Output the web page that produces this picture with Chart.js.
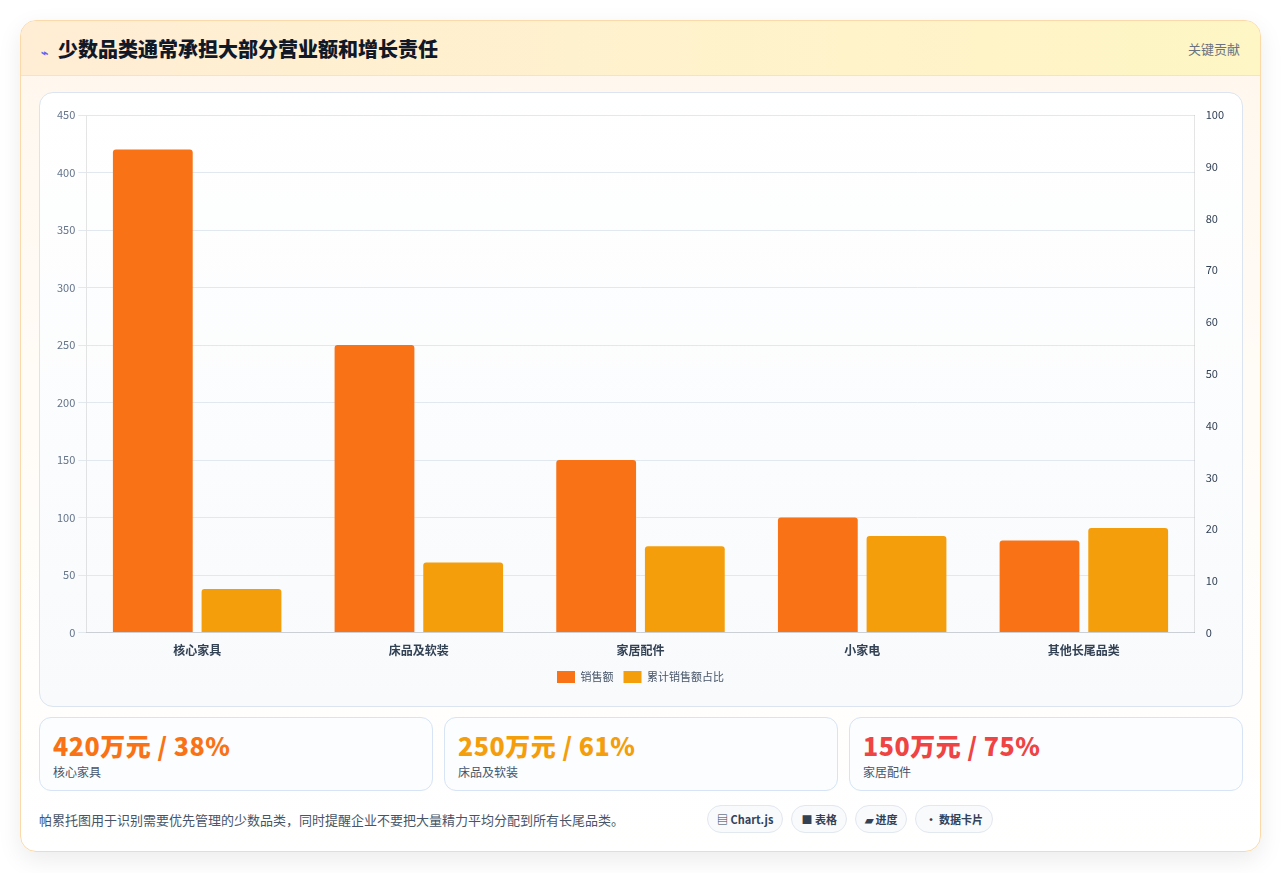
<!DOCTYPE html>
<html>
<head>
<meta charset="utf-8">
<script src="https://cdn.jsdelivr.net/npm/chart.js"></script>
<style>
  * { box-sizing: border-box; }
  body { margin: 0; background: #fff; font-family: "Noto Sans CJK SC", "Noto Sans", sans-serif; }
  .card { position: absolute; left: 20px; top: 20px; width: 1241px; height: 832px; border: 1px solid #fcd9a8; border-radius: 16px; background: linear-gradient(180deg, #fff7ed 0%, #fffdfa 60%, #ffffff 100%); box-shadow: 0 8px 24px rgba(0,0,0,0.08); overflow: hidden; }
  .head { height: 55px; background: linear-gradient(90deg, #ffedd5, #fef6c4); border-bottom: 1px solid #f3e3c8; display: flex; align-items: center; padding: 0 20px; }
  .head h1 { margin: 0; font-size: 20px; font-weight: 800; color: #111827; flex: 1; }
  .head h1 span { font-size: 12px; color: #6366f1; margin-right: 10px; }
  .head .tag { font-size: 13px; color: #6b7280; }
  .panel { position: absolute; left: 18px; top: 71px; width: 1204px; height: 615px; border: 1px solid #dbe4f0; border-radius: 14px; background: linear-gradient(180deg, #ffffff, #f8fafc); }
  .cards { position: absolute; left: 18px; top: 696px; width: 1204px; display: flex; gap: 11px; }
  .kpi { flex: 1; height: 74px; border: 1px solid #d6e4f5; border-radius: 12px; background: #fbfdff; padding: 9px 13px; }
  .kpi .v { font-size: 25px; font-weight: 800; line-height: 36px; letter-spacing: 0.5px; }
  .kpi .l { font-size: 12px; color: #475569; }
  .foot { position: absolute; left: 18px; top: 784px; width: 1204px; display: flex; align-items: center; }
  .foot .t { font-size: 13px; color: #475569; width: 668px; }
  .pill { font-size: 11px; font-weight: 700; color: #334155; border: 1px solid #e2e8f0; background: #f8fafc; border-radius: 14px; padding: 5px 9px; margin-right: 8px; }
</style>
</head>
<body>
<div class="card">
  <div class="head"><h1><span>⌁</span>少数品类通常承担大部分营业额和增长责任</h1><div class="tag">关键贡献</div></div>
  <div class="panel"><canvas id="c"></canvas></div>
  <div class="cards">
    <div class="kpi"><div class="v" style="color:#f97316">420万元 / 38%</div><div class="l">核心家具</div></div>
    <div class="kpi"><div class="v" style="color:#f59e0b">250万元 / 61%</div><div class="l">床品及软装</div></div>
    <div class="kpi"><div class="v" style="color:#ef4444">150万元 / 75%</div><div class="l">家居配件</div></div>
  </div>
  <div class="foot">
    <div class="t">帕累托图用于识别需要优先管理的少数品类，同时提醒企业不要把大量精力平均分配到所有长尾品类。</div>
    <span class="pill">▤ Chart.js</span><span class="pill">■ 表格</span><span class="pill">▰ 进度</span><span class="pill">• 数据卡片</span>
  </div>
</div>
<script>
const categories = ['核心家具', '床品及软装', '家居配件', '小家电', '其他长尾品类'];
const sales = [420, 250, 150, 100, 80];
const cumulativeShare = [38, 61, 75, 84, 91];

const canvas = document.getElementById('c');
canvas.width = 1204; canvas.height = 615;
canvas.style.width = '1204px'; canvas.style.height = '615px';
Chart.defaults.font.family = '"Noto Sans CJK SC", "Noto Sans", sans-serif';
new Chart(canvas, {
  type: 'bar',
  data: {
    labels: categories,
    datasets: [
      { label: '销售额', data: sales, backgroundColor: '#f97316', borderRadius: 3, yAxisID: 'y' },
      { label: '累计销售额占比', data: cumulativeShare, backgroundColor: '#f59e0b', borderRadius: 3, yAxisID: 'y' }
    ]
  },
  options: {
    responsive: false,
    animation: false,
    layout: { padding: { left: 14, right: 17, top: 22, bottom: 15 } },
    plugins: {
      legend: { position: 'bottom', labels: { boxWidth: 18, boxHeight: 12, font: { size: 11 }, color: '#475569' } },
      tooltip: { enabled: false }
    },
    scales: {
      x: { grid: { display: false }, ticks: { color: '#334155', font: { size: 12, weight: 'bold' } } },
      y: { min: 0, max: 450, ticks: { stepSize: 50, color: '#64748b', font: { size: 11 } }, grid: { color: '#e2e8f0' } },
      y1: { position: 'right', min: 0, max: 100, ticks: { stepSize: 10, color: '#334155', font: { size: 11 } }, grid: { display: false } }
    }
  }
});
</script>
</body>
</html>
